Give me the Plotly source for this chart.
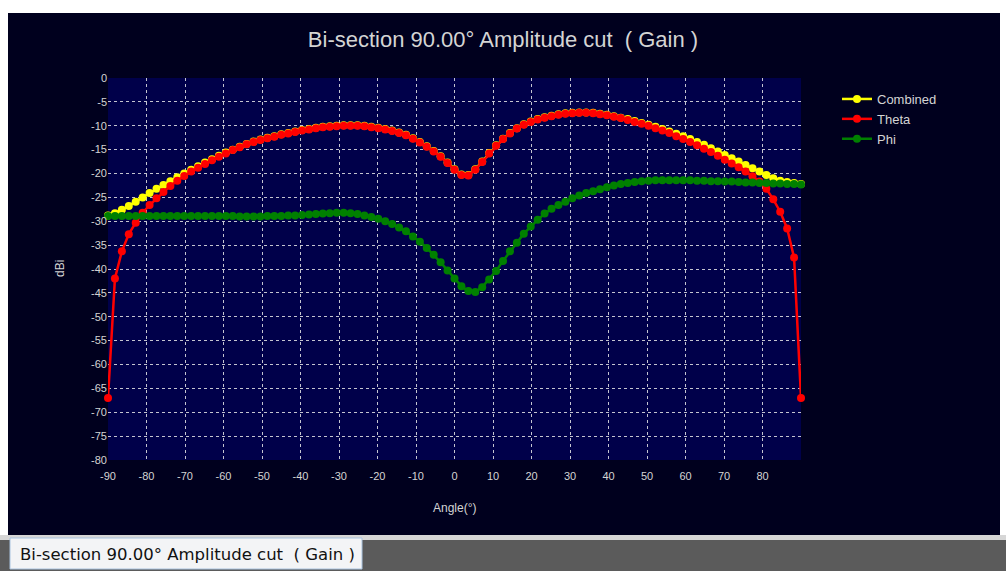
import plotly.graph_objects as go

ANGLES = [-90.0, -88.2, -86.4, -84.6, -82.8, -81.0, -79.2, -77.4, -75.6, -73.8,
          -72.0, -70.2, -68.4, -66.6, -64.8, -63.0, -61.2, -59.4, -57.6, -55.8,
          -54.0, -52.2, -50.4, -48.6, -46.8, -45.0, -43.2, -41.4, -39.6, -37.8,
          -36.0, -34.2, -32.4, -30.6, -28.8, -27.0, -25.2, -23.4, -21.6, -19.8,
          -18.0, -16.2, -14.4, -12.6, -10.8, -9.0, -7.2, -5.4, -3.6, -1.8,
          0.0,
          1.8, 3.6, 5.4, 7.2, 9.0, 10.8, 12.6, 14.4, 16.2, 18.0,
          19.8, 21.6, 23.4, 25.2, 27.0, 28.8, 30.6, 32.4, 34.2, 36.0,
          37.8, 39.6, 41.4, 43.2, 45.0, 46.8, 48.6, 50.4, 52.2, 54.0,
          55.8, 57.6, 59.4, 61.2, 63.0, 64.8, 66.6, 68.4, 70.2, 72.0,
          73.8, 75.6, 77.4, 79.2, 81.0, 82.8, 84.6, 86.4, 88.2, 90.0]

COMBINED = [-28.8, -28.3, -27.6, -26.8, -25.9, -25.0, -24.1, -23.2, -22.4, -21.6,
            -20.8, -20.0, -19.2, -18.5, -17.7, -17.0, -16.3, -15.6, -15.0, -14.4,
            -13.8, -13.3, -12.9, -12.5, -12.2, -11.8, -11.5, -11.2, -10.9, -10.7,
            -10.4, -10.2, -10.1, -10.0, -9.9, -9.9, -9.9, -10.0, -10.2, -10.4,
            -10.7, -11.0, -11.4, -11.9, -12.6, -13.4, -14.3, -15.3, -16.4, -17.7,
            -19.1,
            -20.2, -20.3, -19.1, -17.5, -15.7, -14.1, -12.7, -11.5, -10.5, -9.7,
            -9.1, -8.6, -8.2, -7.9, -7.6, -7.4, -7.3, -7.2, -7.2, -7.3,
            -7.5, -7.7, -8.0, -8.3, -8.6, -9.0, -9.4, -9.8, -10.2, -10.7,
            -11.2, -11.7, -12.2, -12.8, -13.4, -14.0, -14.7, -15.4, -16.1, -16.8,
            -17.5, -18.2, -18.9, -19.6, -20.3, -21.0, -21.5, -21.8, -22.0, -22.2]

THETA = [-67.0, -42.0, -36.3, -32.7, -30.3, -28.2, -26.6, -25.2, -23.9, -22.6,
         -21.5, -20.5, -19.6, -18.8, -18.0, -17.2, -16.5, -15.8, -15.1, -14.5,
         -13.9, -13.4, -13.0, -12.6, -12.3, -11.9, -11.6, -11.3, -11.0, -10.8,
         -10.5, -10.3, -10.2, -10.1, -10.0, -10.0, -10.0, -10.1, -10.3, -10.5,
         -10.8, -11.1, -11.5, -12.0, -12.7, -13.5, -14.4, -15.4, -16.5, -17.8,
         -19.2,
         -20.3, -20.4, -19.2, -17.6, -15.8, -14.2, -12.8, -11.6, -10.6, -9.8,
         -9.2, -8.7, -8.3, -8.0, -7.7, -7.5, -7.4, -7.3, -7.3, -7.4,
         -7.6, -7.8, -8.1, -8.4, -8.8, -9.2, -9.6, -10.0, -10.5, -11.0,
         -11.5, -12.2, -12.8, -13.4, -14.1, -14.8, -15.5, -16.3, -17.1, -17.9,
         -18.7, -19.6, -20.6, -21.7, -23.2, -25.4, -28.0, -31.5, -37.6, -67.0]

PHI = [-28.9, -28.9, -28.9, -28.9, -28.9, -28.9, -28.9, -28.9, -28.9, -28.9,
       -28.9, -28.9, -28.9, -28.9, -28.9, -28.9, -28.9, -28.9, -28.9, -29.0,
       -29.0, -29.0, -29.0, -28.9, -28.9, -28.9, -28.8, -28.8, -28.7, -28.6,
       -28.5, -28.4, -28.3, -28.2, -28.2, -28.3, -28.5, -28.8, -29.1, -29.5,
       -30.0, -30.6, -31.3, -32.1, -33.2, -34.3, -35.6, -37.0, -38.6, -40.3,
       -42.0,
       -43.6, -44.6, -44.8, -43.8, -42.2, -40.4, -38.3, -36.3, -34.5, -32.6,
       -31.1, -29.7, -28.4, -27.4, -26.6, -25.9, -25.2, -24.6, -24.1, -23.7,
       -23.3, -22.9, -22.5, -22.2, -22.0, -21.8, -21.6, -21.5, -21.4, -21.4,
       -21.4, -21.4, -21.4, -21.4, -21.5, -21.5, -21.6, -21.6, -21.7, -21.7,
       -21.8, -21.9, -21.9, -22.0, -22.0, -22.1, -22.1, -22.2, -22.2, -22.3]

X_TICKS = [-90, -80, -70, -60, -50, -40, -30, -20, -10, 0, 10, 20, 30, 40, 50, 60, 70, 80]
Y_TICKS = [0, -5, -10, -15, -20, -25, -30, -35, -40, -45, -50, -55, -60, -65, -70, -75, -80]

SERIES = [("Combined", COMBINED, "#ffff00"),
          ("Theta", THETA, "#ff0000"),
          ("Phi", PHI, "#008000")]

W, H = 1006, 571
L, R, T, B = 108, 801, 78, 460  # plot area in pixels


def px(x):
    return (x - L) / (R - L)


def py(y):
    return (B - y) / (B - T)


fig = go.Figure()
for name, vals, col in SERIES:
    fig.add_trace(go.Scatter(
        x=ANGLES, y=vals, name=name, mode="lines+markers",
        line=dict(color=col, width=2.5),
        marker=dict(color=col, size=8),
        cliponaxis=False,
    ))

TXT = "#d4d4d4"
GRID = "#c4c4d0"

fig.update_layout(
    width=W, height=H, autosize=False,
    margin=dict(l=L, r=W - R, t=T, b=H - B, pad=0),
    paper_bgcolor="#00001e",
    plot_bgcolor="#00004a",
    font=dict(family="Liberation Sans, Arial, sans-serif", color=TXT, size=11),
    title=dict(text="Bi-section 90.00° Amplitude cut\u00a0 ( Gain )",
               x=0.5, xref="container", xanchor="center",
               y=1 - 39 / H, yref="container", yanchor="middle",
               font=dict(family="Liberation Sans, Arial, sans-serif",
                         size=22, color=TXT)),
    showlegend=True,
    legend=dict(x=px(837), y=py(84), xanchor="left", yanchor="top",
                bgcolor="rgba(0,0,0,0)", font=dict(size=13, color=TXT),
                tracegroupgap=0, itemwidth=30),
    xaxis=dict(range=[-90, 90], tickmode="array", tickvals=X_TICKS,
               ticktext=[str(v) for v in X_TICKS],
               showgrid=True, gridcolor=GRID, gridwidth=1, griddash="dot",
               zeroline=False, showline=False, ticks="",
               tickfont=dict(size=11, color=TXT), ticklabelstandoff=8,
               fixedrange=True),
    yaxis=dict(range=[-80, 0], tickmode="array", tickvals=Y_TICKS,
               ticktext=[str(v) for v in Y_TICKS],
               showgrid=True, gridcolor=GRID, gridwidth=1, griddash="dot",
               zeroline=False, showline=False, ticks="",
               tickfont=dict(size=11, color=TXT),
               fixedrange=True),
)

# axis titles
fig.add_annotation(text="Angle(°)", xref="paper", yref="paper",
                   x=px(455), y=py(508), showarrow=False,
                   font=dict(size=12, color=TXT), xanchor="center", yanchor="middle")
fig.add_annotation(text="dBi", xref="paper", yref="paper",
                   x=px(60), y=py(269), showarrow=False, textangle=-90,
                   font=dict(size=12, color=TXT), xanchor="center", yanchor="middle")


# window frame pieces
def rect(x0, y0, x1, y1, fill, line=None):
    fig.add_shape(type="rect", xref="paper", yref="paper",
                  x0=px(x0), x1=px(x1), y0=py(y1), y1=py(y0),
                  fillcolor=fill, line=dict(width=1 if line else 0, color=line or fill),
                  layer="below")


rect(0, 0, W, 13, "#ffffff")
rect(0, 0, 8, 536, "#ffffff")
rect(1000, 0, W, 536, "#ffffff")
rect(0, 535, W, 540, "#d6d6d6")
rect(0, 540, W, H, "#5b5b5b")
rect(10, 538, 362, 569, "#f3f4f6", "#a9c3df")

fig.add_annotation(text="Bi-section 90.00° Amplitude cut\u00a0 ( Gain )",
                   xref="paper", yref="paper", x=px(187), y=py(554),
                   showarrow=False, xanchor="center", yanchor="middle",
                   font=dict(family="DejaVu Sans, Noto Sans, sans-serif", size=16.5, color="#111111"))

fig.write_html("out.html", config={"displayModeBar": False},
               post_script="document.body.style.margin='0';document.body.style.overflow='hidden';")
